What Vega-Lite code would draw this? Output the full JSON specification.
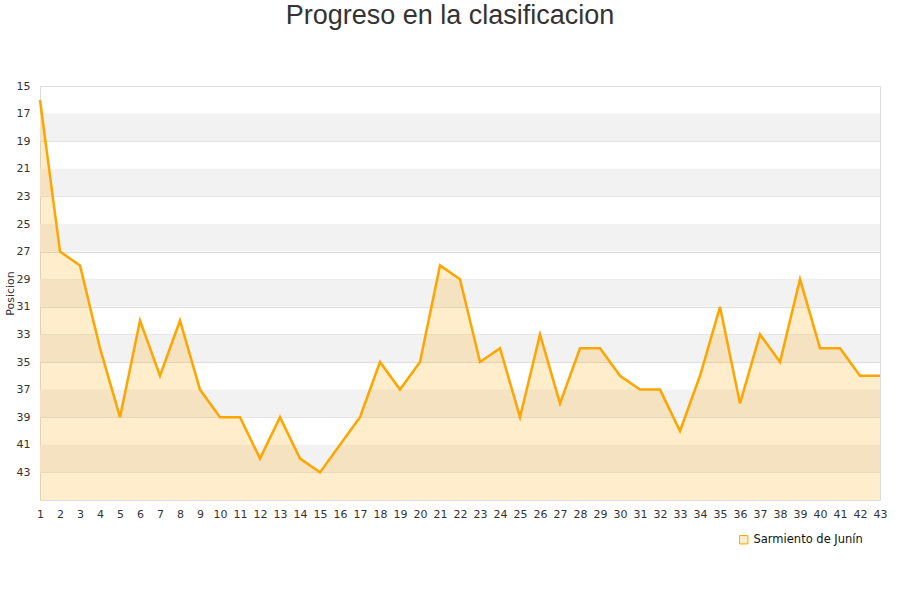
{
  "$schema": "https://vega.github.io/schema/vega-lite/v6.json",
  "width": 840,
  "height": 414,
  "autosize": {"type": "none"},
  "padding": {"left": 40, "top": 86, "right": 20, "bottom": 100},
  "background": "white",
  "config": {
    "font": "DejaVu Sans",
    "view": {"stroke": "#dddddd"},
    "axis": {"labelColor": "#333333", "labelFontSize": 11, "ticks": false, "domain": false, "gridColor": "#dddddd", "labelOverlap": false}
  },
  "title": {
    "text": "Progreso en la clasificacion",
    "font": "Liberation Sans",
    "fontSize": 27,
    "fontWeight": "normal",
    "color": "#333333",
    "anchor": "middle",
    "offset": 50,
    "dx": -10
  },
  "datasets": {
    "bands": [
      {"from": 17, "to": 19}, {"from": 21, "to": 23}, {"from": 25, "to": 27},
      {"from": 29, "to": 31}, {"from": 33, "to": 35}, {"from": 37, "to": 39},
      {"from": 41, "to": 43}
    ],
    "pos": [
      {"jornada": 1, "pos": 16}, {"jornada": 2, "pos": 27}, {"jornada": 3, "pos": 28},
      {"jornada": 4, "pos": 34}, {"jornada": 5, "pos": 39}, {"jornada": 6, "pos": 32},
      {"jornada": 7, "pos": 36}, {"jornada": 8, "pos": 32}, {"jornada": 9, "pos": 37},
      {"jornada": 10, "pos": 39}, {"jornada": 11, "pos": 39}, {"jornada": 12, "pos": 42},
      {"jornada": 13, "pos": 39}, {"jornada": 14, "pos": 42}, {"jornada": 15, "pos": 43},
      {"jornada": 16, "pos": 41}, {"jornada": 17, "pos": 39}, {"jornada": 18, "pos": 35},
      {"jornada": 19, "pos": 37}, {"jornada": 20, "pos": 35}, {"jornada": 21, "pos": 28},
      {"jornada": 22, "pos": 29}, {"jornada": 23, "pos": 35}, {"jornada": 24, "pos": 34},
      {"jornada": 25, "pos": 39}, {"jornada": 26, "pos": 33}, {"jornada": 27, "pos": 38},
      {"jornada": 28, "pos": 34}, {"jornada": 29, "pos": 34}, {"jornada": 30, "pos": 36},
      {"jornada": 31, "pos": 37}, {"jornada": 32, "pos": 37}, {"jornada": 33, "pos": 40},
      {"jornada": 34, "pos": 36}, {"jornada": 35, "pos": 31}, {"jornada": 36, "pos": 38},
      {"jornada": 37, "pos": 33}, {"jornada": 38, "pos": 35}, {"jornada": 39, "pos": 29},
      {"jornada": 40, "pos": 34}, {"jornada": 41, "pos": 34}, {"jornada": 42, "pos": 36},
      {"jornada": 43, "pos": 36}
    ]
  },
  "layer": [
    {
      "data": {"name": "bands"},
      "mark": {"type": "rect", "fill": "#f2f2f2"},
      "encoding": {
        "y": {
          "field": "from", "type": "quantitative",
          "scale": {"domain": [15, 45], "reverse": true, "nice": false, "zero": false},
          "axis": {
            "values": [15, 17, 19, 21, 23, 25, 27, 29, 31, 33, 35, 37, 39, 41, 43],
            "labelOverlap": false, "tickCount": 15,
            "title": "Posicion", "titleFontWeight": "normal", "titleFontSize": 11,
            "titleColor": "#333333", "titlePadding": 1, "labelPadding": 10
          }
        },
        "y2": {"field": "to"}
      }
    },
    {
      "data": {"name": "pos"},
      "mark": {"type": "area", "fill": "#ffa500", "fillOpacity": 0.2},
      "encoding": {
        "x": {
          "field": "jornada", "type": "quantitative",
          "scale": {"domain": [1, 43], "nice": false},
          "axis": {
            "values": [1, 2, 3, 4, 5, 6, 7, 8, 9, 10, 11, 12, 13, 14, 15, 16, 17, 18, 19, 20, 21, 22, 23, 24, 25, 26, 27, 28, 29, 30, 31, 32, 33, 34, 35, 36, 37, 38, 39, 40, 41, 42, 43],
            "labelOverlap": false, "tickCount": 43,
            "title": null, "grid": false, "labelPadding": 8, "labelFlush": false
          }
        },
        "y": {"field": "pos", "type": "quantitative"},
        "y2": {"datum": 45}
      }
    },
    {
      "data": {"name": "pos"},
      "mark": {"type": "line", "color": "#ffa500", "strokeWidth": 2.5},
      "encoding": {
        "x": {"field": "jornada", "type": "quantitative"},
        "y": {"field": "pos", "type": "quantitative"},
        "color": {
          "datum": "Sarmiento de Junín",
          "scale": {"range": ["#ffa500"]},
          "legend": {
            "orient": "none", "legendX": 698, "legendY": 448, "title": null,
            "symbolType": "square", "symbolFillColor": "#ffedcc", "symbolStrokeColor": "#c8a060",
            "symbolStrokeWidth": 1, "symbolSize": 70, "labelFontSize": 11.5, "labelColor": "#111111"
          }
        }
      }
    }
  ]
}
